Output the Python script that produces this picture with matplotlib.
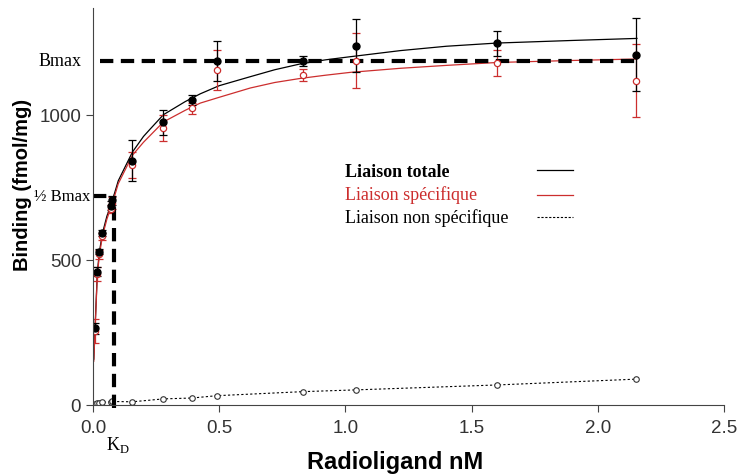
import numpy as np
import matplotlib
matplotlib.use("Agg")
from matplotlib import pyplot as plt

# concentrations (nM) of the measured points
conc = [0.008, 0.017, 0.025, 0.037, 0.070, 0.077, 0.156, 0.279, 0.392, 0.49, 0.832, 1.04, 1.6, 2.15]
total = [263, 459, 528, 591, 686, 705, 841, 974, 1051, 1186, 1186, 1238, 1247, 1207]
total_err = [20, 15, 10, 10, 15, 15, 70, 43, 18, 69, 17, 92, 43, 126]
specific = [254, 450, 519, 581, 675, 696, 828, 953, 1022, 1155, 1138, 1186, 1178, 1117]
specific_err = [40, 25, 15, 12, 15, 20, 45, 45, 20, 69, 21, 94, 46, 126]
nonspecific = [4, 6, 7, 8, 10, 11, 10, 20, 23, 31, 45, 51, 68, 88]

# fitted curves
fit_x = [0.003, 0.008, 0.017, 0.025, 0.037, 0.055, 0.077, 0.1, 0.156, 0.2, 0.226,
         0.279, 0.365, 0.425, 0.5, 0.623, 0.72, 0.821, 0.92, 1.02, 1.218, 1.4,
         1.6, 1.9, 2.155]
total_fit = [157, 263, 455, 525, 590, 650, 705, 772, 871, 925, 950,
             1000, 1045, 1072, 1100, 1131, 1155, 1175, 1189, 1200, 1221, 1236,
             1247, 1256, 1263]
specific_fit = [150, 255, 445, 515, 580, 640, 695, 762, 860, 905, 928,
                975, 1015, 1040, 1060, 1092, 1111, 1125, 1136, 1146, 1160, 1170,
                1180, 1187, 1192]

bmax = 1186
half_bmax = 720
kd = 0.085

red = '#cc2e2e'
serif = 'Liberation Serif'
sans = 'Liberation Sans'
dash = (0, (3.2, 1.8))

fig = plt.figure(figsize=(7.4, 4.77), dpi=100)
ax = fig.add_axes([0.1257, 0.1495, 0.8527, 0.8317])

# fitted lines
ax.plot(fit_x, total_fit, color='black', lw=0.9)
ax.plot(fit_x, specific_fit, color=red, lw=0.9)
ax.plot(conc, nonspecific, color='black', lw=0.8, ls=(0, (2, 2)),
        marker='o', ms=4, mfc='white', mec='#333333', mew=0.8)

# data with error bars
ax.errorbar(conc, specific, yerr=specific_err, fmt='o', ms=4.5, mfc='white', mec=red,
            mew=0.9, ecolor=red, elinewidth=0.9, capsize=3, capthick=0.9)
ax.errorbar(conc, total, yerr=total_err, fmt='o', ms=5, color='black',
            ecolor='black', elinewidth=0.9, capsize=3, capthick=0.9)

# Bmax and KD guides
ax.plot([0.028, 2.16], [bmax, bmax], color='black', lw=3, ls=dash)
ax.plot([0.0, kd], [half_bmax, half_bmax], color='black', lw=3, ls=dash)
ax.plot([kd, kd], [-10, half_bmax], color='black', lw=3, ls=dash, clip_on=False)

ax.text(-0.045, bmax, 'Bmax', ha='right', va='center', family=serif, fontsize=13,
        clip_on=False)
ax.text(-0.01, half_bmax, '½ Bmax', ha='right', va='center', family=serif, fontsize=12,
        clip_on=False)
ax.text(0.097, -135, r'K$_\mathregular{D}$', ha='center', va='center', family=serif,
        fontsize=13, clip_on=False)

# legend drawn by hand
ax.text(1.0, 805, 'Liaison totale', family=serif, fontsize=13, fontweight='bold', va='center')
ax.text(1.0, 726, 'Liaison spécifique', family=serif, fontsize=13, color=red, va='center')
ax.text(1.0, 648, 'Liaison non spécifique', family=serif, fontsize=13, va='center')
ax.plot([1.76, 1.9], [810, 810], color='black', lw=0.9)
ax.plot([1.76, 1.9], [724, 724], color=red, lw=0.9)
ax.plot([1.76, 1.9], [648, 648], color='black', lw=0.8, ls=(0, (2, 1.5)))

ax.set_xlim(0, 2.5)
ax.set_ylim(0, 1368)
ax.set_xticks([0.0, 0.5, 1.0, 1.5, 2.0, 2.5])
ax.set_xticklabels(['0.0', '0.5', '1.0', '1.5', '2.0', '2.5'])
ax.set_yticks([0, 500, 1000])
for s in ['top', 'right']:
    ax.spines[s].set_visible(False)
for s in ['left', 'bottom']:
    ax.spines[s].set_color('#444444')
ax.tick_params(direction='out', length=5, color='#444444', labelsize=13.5,
               labelcolor='#333333')
ax.tick_params(axis='x', pad=5)
for lab in ax.get_xticklabels() + ax.get_yticklabels():
    lab.set_family(sans)

ax.set_xlabel('Radioligand nM', family=sans, fontsize=17, fontweight='bold')
ax.xaxis.set_label_coords(0.479, -0.142)
ax.xaxis.label.set_va('center')
ax.set_ylabel('Binding (fmol/mg)', family=sans, fontsize=14.5, fontweight='bold')
ax.yaxis.set_label_coords(-0.112, 0.556)
ax.yaxis.label.set_va('center')

fig.savefig('out.png', dpi=100)
